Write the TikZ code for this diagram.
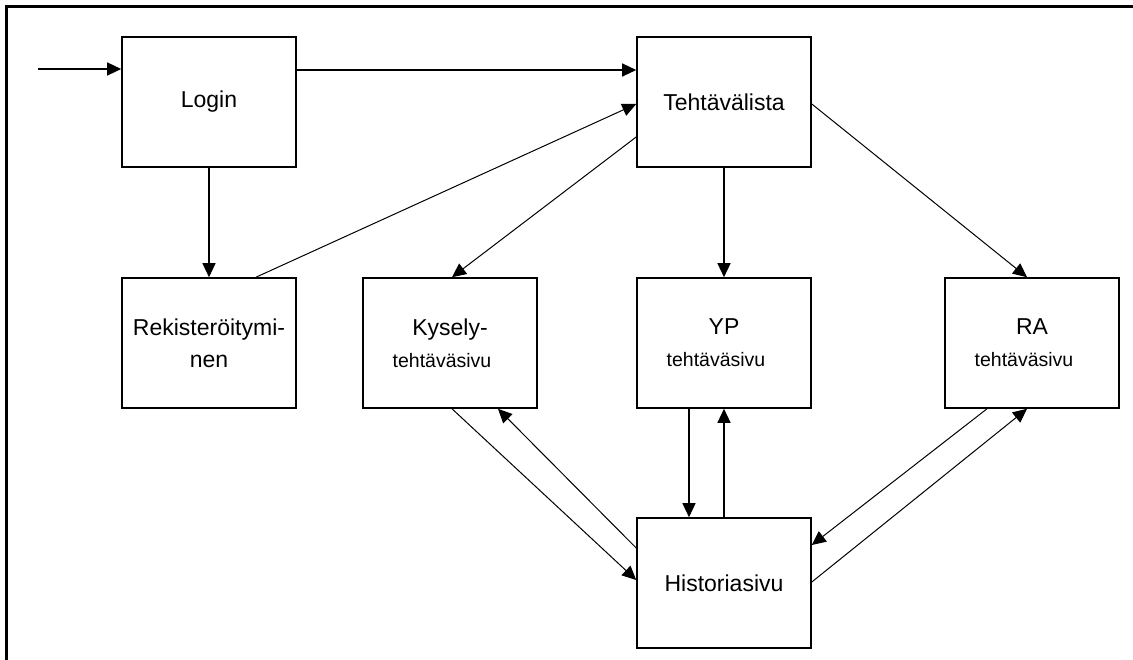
\documentclass[tikz,border=0pt]{standalone}
\usepackage{fontspec}
\setmainfont{Liberation Sans}
\usetikzlibrary{arrows.meta}

\newcommand\pagesub[1]{{\fontsize{19.5}{19.5}\selectfont #1\hspace*{16pt}}}

\begin{document}
\begin{tikzpicture}[x=1pt, y=-1pt,
  page/.style={draw, line width=1.6pt, minimum width=174pt, minimum height=130pt,
    inner sep=0pt, align=center, font=\fontsize{23}{32}\selectfont},
  link/.style={line width=1.3pt, -{Triangle[length=14pt, width=13pt]}},
  thinlink/.style={link, line width=1pt}]
  \useasboundingbox (0,0) rectangle (1133,660);

  % open frame: left and top edges
  \draw[line width=3pt] (6.5,660) -- (6.5,6.5) -- (1133,6.5);

  % pages
  \node[page] (login) at (209,102) {Login};
  \node[page] (teht)  at (724,102) {Tehtävälista};
  \node[page] (rek)   at (209,343) {Rekisteröitymi-\\nen};
  \node[page] (kys)   at (450,343) {Kysely-\\\pagesub{tehtäväsivu}};
  \node[page] (yp)    at (724,343) {YP\\\pagesub{tehtäväsivu}};
  \node[page] (ra)    at (1032,343) {RA\\\pagesub{tehtäväsivu}};
  \node[page] (hist)  at (724,583) {Historiasivu};

  % entry point
  \coordinate (entry) at (38,69);
  \draw[link] (entry) -- (login.west |- entry);

  % navigation
  \draw[link] ([yshift=32pt]login.east) -- ([yshift=32pt]teht.west);
  \draw[link] (login.south) -- (rek.north);
  \draw[thinlink] ([xshift=47pt]rek.north) -- ([yshift=-2pt]teht.west);
  \draw[thinlink] ([yshift=-35pt]teht.west) -- ([xshift=2pt]kys.north);
  \draw[link] (teht.south) -- (yp.north);
  \draw[thinlink] ([yshift=-2pt]teht.east) -- ([xshift=-5pt]ra.north);

  % page <-> history
  \draw[thinlink] ([xshift=2pt]kys.south) -- ([yshift=3pt]hist.west);
  \draw[thinlink] ([yshift=35pt]hist.west) -- ([xshift=48pt]kys.south);
  \draw[link] ([xshift=-35pt]yp.south) -- ([xshift=-35pt]hist.north);
  \draw[link] (hist.north) -- (yp.south);
  \draw[thinlink] ([xshift=-45pt]ra.south) -- ([yshift=38pt]hist.east);
  \draw[thinlink] ([yshift=1pt]hist.east) -- ([xshift=-5pt]ra.south);
\end{tikzpicture}
\end{document}
